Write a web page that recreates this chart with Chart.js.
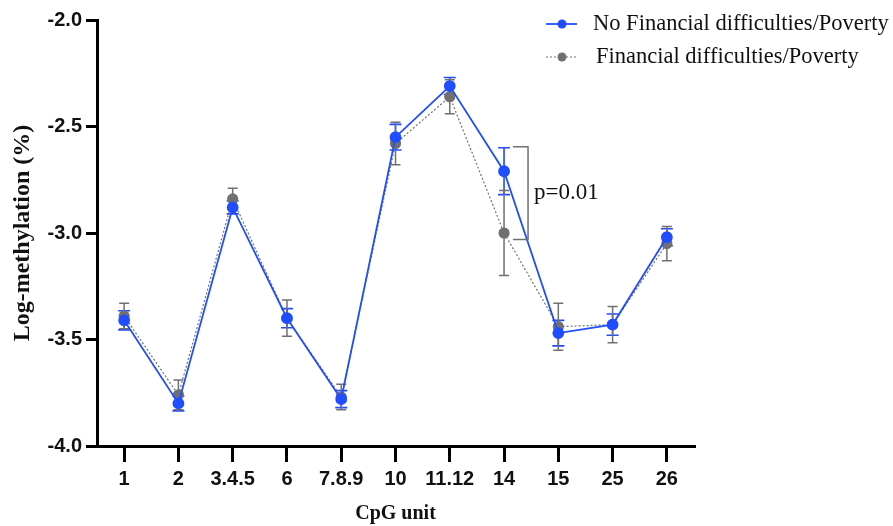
<!DOCTYPE html>
<html>
<head>
<meta charset="utf-8">
<script src="https://cdn.jsdelivr.net/npm/chart.js@4.4.1/dist/chart.umd.min.js"></script>
<style>
  html, body { margin: 0; padding: 0; background: #fff; }
  #wrap { width: 893px; height: 526px; }
</style>
</head>
<body>
<div id="wrap"><canvas id="methChart" width="893" height="526"></canvas></div>
<script>
// CpG units on the x axis
const cpgUnits = ['1', '2', '3.4.5', '6', '7.8.9', '10', '11.12', '14', '15', '25', '26'];

// mean log-methylation and error (SEM) per group
const noPovertyMean = [-3.41, -3.80, -2.88, -3.40, -3.78, -2.55, -2.31, -2.71, -3.47, -3.43, -3.02];
const noPovertyErr  = [0.045, 0.035, 0.03, 0.045, 0.04, 0.06, 0.04, 0.11, 0.06, 0.05, 0.04];
const povertyMean   = [-3.39, -3.76, -2.84, -3.40, -3.77, -2.58, -2.36, -3.00, -3.44, -3.43, -3.05];
const povertyErr    = [0.06, 0.07, 0.05, 0.085, 0.06, 0.10, 0.08, 0.20, 0.11, 0.085, 0.08];

const yTicks = [-4.0, -3.5, -3.0, -2.5, -2.0];

// significance bracket at CpG 14
const sigIndex = 7;
const sigTop = -2.595;
const sigBottom = -3.03;
const sigLabel = 'p=0.01';

const blue = '#1f4dff';
const gray = '#707070';

// draws error bars behind the points
const errorBars = {
    id: 'errorBars',
    beforeDatasetsDraw(chart) {
        const ctx = chart.ctx;
        const y = chart.scales.y;
        chart.data.datasets.forEach((ds, i) => {
            const meta = chart.getDatasetMeta(i);
            ctx.save();
            ctx.strokeStyle = ds.borderColor;
            ctx.lineWidth = ds.errWidth;
            meta.data.forEach((pt, j) => {
                const top = y.getPixelForValue(ds.data[j] + ds.errors[j]);
                const bot = y.getPixelForValue(ds.data[j] - ds.errors[j]);
                const cap = ds.capHalf;
                ctx.beginPath();
                ctx.moveTo(pt.x, top); ctx.lineTo(pt.x, bot);
                ctx.moveTo(pt.x - cap, top); ctx.lineTo(pt.x + cap, top);
                ctx.moveTo(pt.x - cap, bot); ctx.lineTo(pt.x + cap, bot);
                ctx.stroke();
            });
            ctx.restore();
        });
    }
};

// p-value bracket and legend
const annotations = {
    id: 'annotations',
    afterDraw(chart) {
        const ctx = chart.ctx;
        const x = chart.scales.x;
        const y = chart.scales.y;
        const bx = x.getPixelForValue(sigIndex) + 24;
        const t = y.getPixelForValue(sigTop);
        const b = y.getPixelForValue(sigBottom);
        ctx.save();
        ctx.strokeStyle = gray;
        ctx.lineWidth = 1.5;
        ctx.beginPath();
        ctx.moveTo(bx - 15, t); ctx.lineTo(bx, t); ctx.lineTo(bx, b); ctx.lineTo(bx - 15, b);
        ctx.stroke();
        ctx.fillStyle = '#111';
        ctx.font = '23px "Liberation Serif"';
        ctx.textBaseline = 'middle';
        ctx.fillText(sigLabel, bx + 6, (t + b) / 2);

        // legend
        ctx.font = '22.5px "Liberation Serif"';
        chart.data.datasets.forEach((ds, i) => {
            const ly = 24 + i * 33;
            ctx.strokeStyle = ds.borderColor;
            ctx.lineWidth = ds.borderWidth;
            ctx.setLineDash(ds.borderDash || []);
            ctx.beginPath();
            ctx.moveTo(546, ly); ctx.lineTo(577, ly);
            ctx.stroke();
            ctx.setLineDash([]);
            ctx.fillStyle = ds.pointBackgroundColor;
            ctx.beginPath();
            ctx.arc(562, ly, 4.5, 0, Math.PI * 2);
            ctx.fill();
            ctx.fillStyle = '#111';
            ctx.fillText(ds.label, 593 + i * 3, ly);
        });
        ctx.restore();
    }
};

const ctx = document.getElementById('methChart').getContext('2d');
new Chart(ctx, {
    type: 'line',
    data: {
        labels: cpgUnits,
        datasets: [{
            label: 'No Financial difficulties/Poverty',
            data: noPovertyMean,
            errors: noPovertyErr,
            borderColor: blue,
            backgroundColor: blue,
            pointBackgroundColor: blue,
            pointBorderColor: blue,
            borderWidth: 1.8,
            pointRadius: 5,
            errWidth: 1.6,
            capHalf: 6,
            order: 0
        }, {
            label: 'Financial difficulties/Poverty',
            data: povertyMean,
            errors: povertyErr,
            borderColor: gray,
            backgroundColor: gray,
            pointBackgroundColor: gray,
            pointBorderColor: gray,
            borderWidth: 1.2,
            borderDash: [2, 2],
            pointRadius: 5,
            errWidth: 1.5,
            capHalf: 5,
            order: 1
        }]
    },
    options: {
        responsive: false,
        animation: false,
        layout: { padding: { top: 20, right: 199, left: 0, bottom: 0 } },
        plugins: {
            legend: { display: false },
            tooltip: { enabled: false }
        },
        scales: {
            x: {
                offset: true,
                grid: { offset: false, drawOnChartArea: false, drawTicks: true, tickLength: 16, color: '#000', lineWidth: 3 },
                border: { color: '#000', width: 3 },
                ticks: {
                    color: '#111',
                    font: { family: '"Liberation Sans"', weight: 'bold', size: 20 },
                    padding: 5,
                    maxRotation: 0,
                    autoSkip: false
                },
                title: {
                    display: true,
                    text: 'CpG unit',
                    color: '#111',
                    font: { family: '"Liberation Serif"', weight: 'bold', size: 20 },
                    padding: { top: 6, bottom: 0 }
                },
                afterFit: s => { s.height = 80; }
            },
            y: {
                min: -4,
                max: -2,
                afterBuildTicks: s => { s.ticks = yTicks.map(v => ({ value: v })); },
                grid: { drawOnChartArea: false, drawTicks: true, tickLength: 11, color: '#000', lineWidth: 3 },
                border: { color: '#000', width: 3 },
                ticks: {
                    color: '#111',
                    font: { family: '"Liberation Sans"', weight: 'bold', size: 20 },
                    padding: 4,
                    callback: v => v.toFixed(1)
                },
                title: {
                    display: true,
                    text: 'Log-methylation (%)',
                    color: '#111',
                    font: { family: '"Liberation Serif"', weight: 'bold', size: 24 },
                    padding: { top: 8, bottom: 8 }
                },
                afterFit: s => { s.width = 97; }
            }
        }
    },
    plugins: [errorBars, annotations]
});
</script>
</body>
</html>
